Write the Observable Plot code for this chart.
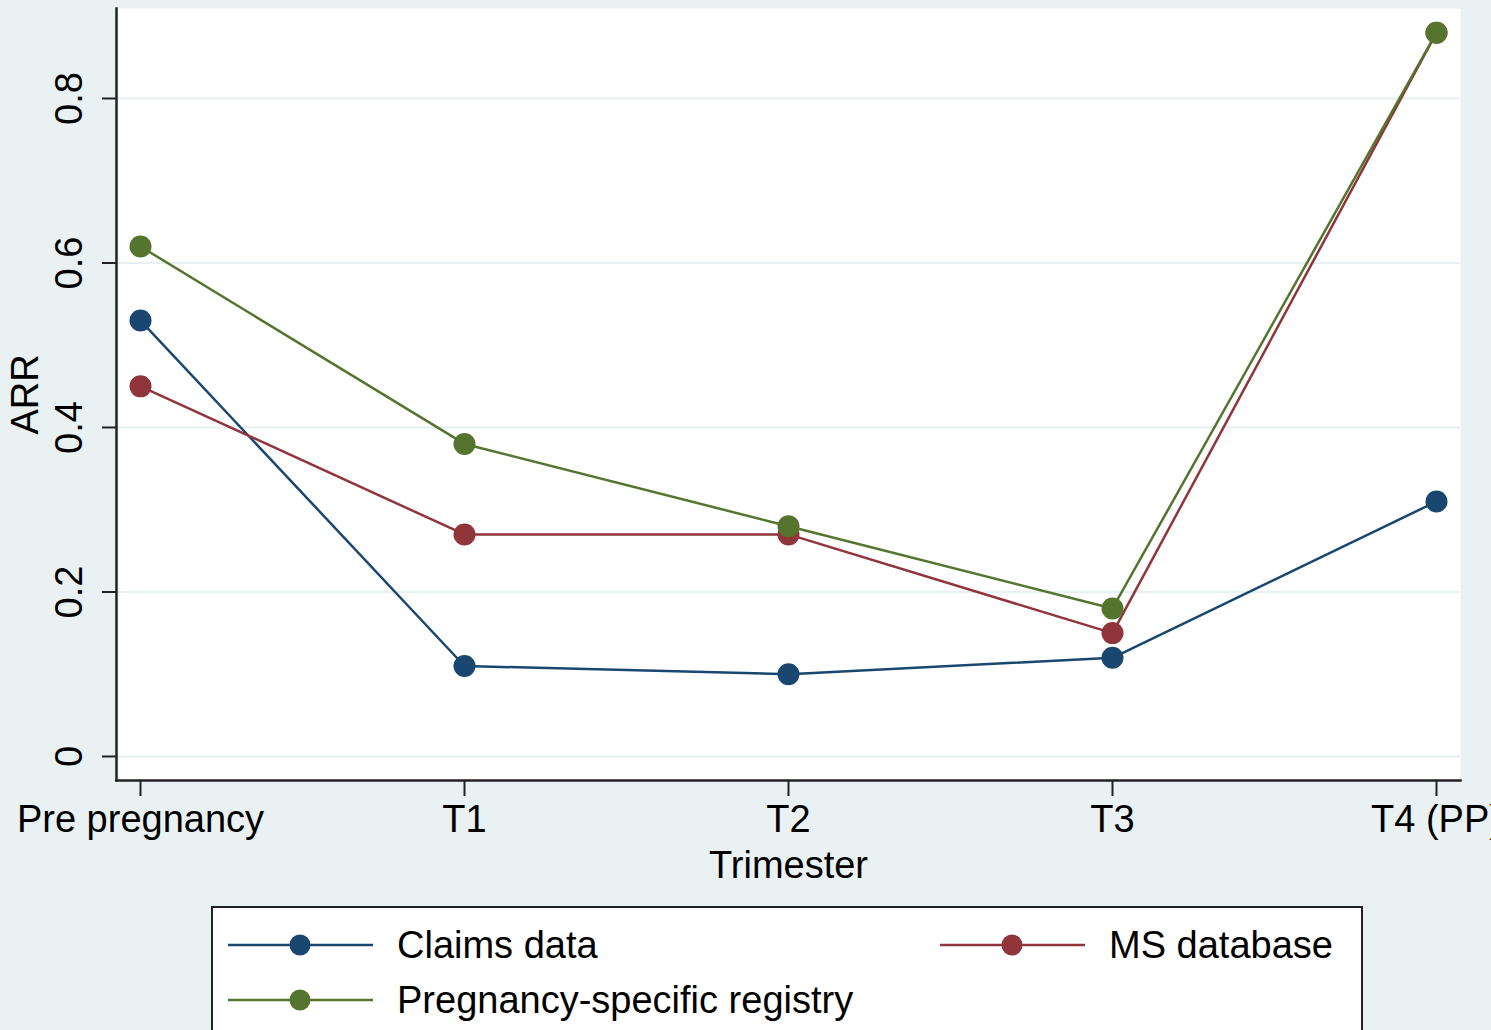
<!DOCTYPE html>
<html>
<head>
<meta charset="utf-8">
<script src="https://cdn.jsdelivr.net/npm/d3@7"></script>
<script src="https://cdn.jsdelivr.net/npm/@observablehq/plot@0.6"></script>
<style>
  html, body { margin: 0; padding: 0; background: #e9f1f3; overflow: hidden; }
  #chart svg { display: block; }
</style>
</head>
<body>
<div id="chart"></div>
<script>
const categories = ["Pre pregnancy", "T1", "T2", "T3", "T4 (PP)"];
const claims = [0.53, 0.11, 0.10, 0.12, 0.31];
const msdb = [0.45, 0.27, 0.27, 0.15, 0.88];
const registry = [0.62, 0.38, 0.28, 0.18, 0.88];
const seriesNames = ["Claims data", "MS database", "Pregnancy-specific registry"];
const seriesColors = ["#1a476f", "#90353b", "#55752f"];
const yTicks = [0, 0.2, 0.4, 0.6, 0.8];
const yTickLabels = ["0", "0.2", "0.4", "0.6", "0.8"];

const seriesValues = [claims, msdb, registry];
const data = seriesNames.flatMap((s, i) =>
  seriesValues[i].map((v, j) => ({cat: categories[j], value: v, series: s}))
);

const font = "'Liberation Sans', Arial, Helvetica, sans-serif";

const chart = Plot.plot({
  width: 1491,
  height: 900,
  marginLeft: 116,
  marginRight: 31,
  marginTop: 8,
  marginBottom: 120,
  style: {background: "transparent", fontFamily: font, fontSize: "38px", color: "#000"},
  x: {type: "point", domain: categories, padding: 0.074},
  y: {domain: [-0.0292, 0.9094]},
  color: {domain: seriesNames, range: seriesColors},
  marks: [
    Plot.frame({fill: "white", stroke: null}),
    Plot.gridY(yTicks, {stroke: "#e6eff1", strokeOpacity: 1, strokeWidth: 2}),
    Plot.axisY(yTicks, {tickSize: 14, tickFormat: () => "", label: null, stroke: "#222", strokeWidth: 2}),
    Plot.text(yTicks, {y: d => d, text: (d, i) => yTickLabels[i], frameAnchor: "left", dx: -47, rotate: -90, textAnchor: "middle", lineAnchor: "middle", fontSize: 38, fill: "#000"}),
    Plot.axisX({tickSize: 16, tickPadding: 9, label: null, fontSize: 38, stroke: "#222", strokeWidth: 2, fill: "#000"}),
    Plot.frame({anchor: "left", stroke: "#222", strokeWidth: 2.5}),
    Plot.frame({anchor: "bottom", stroke: "#222", strokeWidth: 2.5}),
    Plot.text(["Trimester"], {frameAnchor: "bottom", dy: 97, lineAnchor: "bottom", fontSize: 38, fill: "#000"}),
    Plot.text(["ARR"], {frameAnchor: "left", dx: -91, rotate: -90, textAnchor: "middle", lineAnchor: "middle", fontSize: 38, fill: "#000"}),
    Plot.line(data, {x: "cat", y: "value", z: "series", stroke: "series", strokeWidth: 2.5}),
    Plot.dot(data, {x: "cat", y: "value", fill: "series", r: 11})
  ]
});
document.getElementById("chart").appendChild(chart);

// Legend below the plot
const legend = d3.create("svg")
  .attr("width", 1491)
  .attr("height", 130)
  .style("display", "block")
  .style("font-family", font);
legend.append("rect")
  .attr("x", 212).attr("y", 7).attr("width", 1150).attr("height", 200)
  .attr("fill", "white").attr("stroke", "#222").attr("stroke-width", 2);
const colX = [228, 940];
const rowY = [45, 100];
seriesNames.forEach((name, i) => {
  const x0 = colX[i % 2];
  const y = rowY[Math.floor(i / 2)];
  const g = legend.append("g");
  g.append("line").attr("x1", x0).attr("x2", x0 + 145).attr("y1", y).attr("y2", y)
    .attr("stroke", seriesColors[i]).attr("stroke-width", 2.5);
  g.append("circle").attr("cx", x0 + 72).attr("cy", y).attr("r", 10.5).attr("fill", seriesColors[i]);
  g.append("text").attr("x", x0 + 169).attr("y", y).attr("dy", "0.35em")
    .attr("font-size", 38).attr("fill", "#000").text(name);
});
document.getElementById("chart").appendChild(legend.node());
</script>
</body>
</html>
